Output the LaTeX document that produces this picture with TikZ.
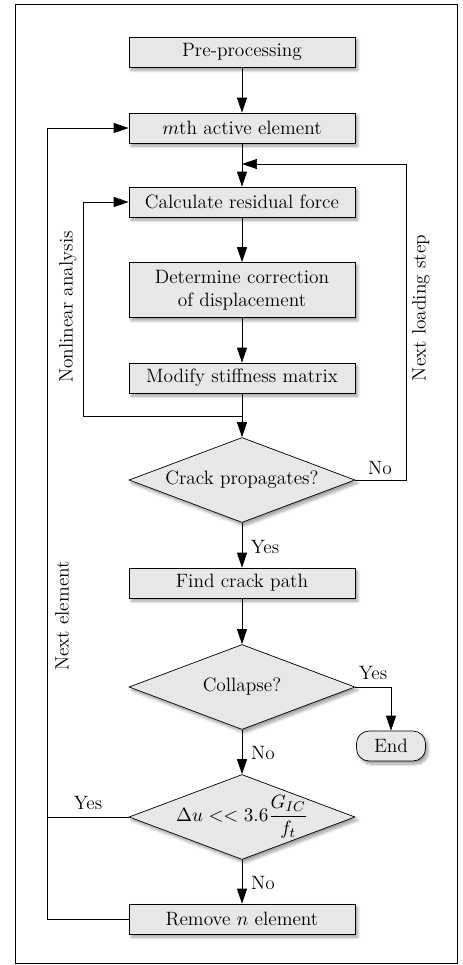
\documentclass[tikz,border=0pt]{standalone}
\usepackage{amsmath}
\usetikzlibrary{arrows.meta,shapes.geometric,shadows.blur}

\definecolor{boxgray}{RGB}{230,231,232}

\tikzset{
    >={Triangle[length=0.3cm,width=0.2cm]},
    softshadow/.style={blur shadow={shadow blur steps=6,shadow xshift=0.5mm,shadow yshift=-0.6mm,shadow opacity=40}},
    procbox/.style={draw,fill=boxgray,minimum width=4.52cm,minimum height=0.6cm,align=center,softshadow},
    decision/.style={diamond,draw,fill=boxgray,minimum width=4.52cm,minimum height=1.7cm,aspect=2.66,inner sep=0pt,softshadow},
    endbox/.style={draw,fill=boxgray,rounded corners=0.25cm,minimum width=1.38cm,minimum height=0.6cm,softshadow},
    flowlabel/.style={inner sep=1pt}
}

\begin{document}
\begin{tikzpicture}[x=0.02cm,y=-0.02cm,font=\fontsize{11}{13}\selectfont]
    \useasboundingbox (0,0) rectangle (463,965);
    \draw (15,4) rectangle (457,963);

    \node[procbox] (pre) at (242,52) {Pre-processing};
    \node[procbox] (mth) at (242,128) {$m$th active element};
    \node[procbox] (calc) at (242,202) {Calculate residual force};
    \node[procbox,minimum height=1.1cm] (corr) at (242,290) {Determine correction\\of displacement};
    \node[procbox] (stiff) at (242,378) {Modify stiffness matrix};
    \node[decision] (crack) at (242,480) {Crack propagates?};
    \node[procbox] (path) at (242,583) {Find crack path};
    \node[decision] (collapse) at (242,687) {Collapse?};
    \node[endbox] (end) at (391,746) {End};
    \node[decision,inner ysep=-8pt] (check) at (242,817) {$\Delta u << 3.6\dfrac{G_{IC}}{f_t}$};
    \node[procbox] (remove) at (242,919) {Remove $n$ element};

    \coordinate (loadin) at (242,164);
    \coordinate (loadturn) at (406,164);
    \coordinate (nonlin) at (242,416);
    \coordinate (nlturn) at (83,416);
    \coordinate (neturn) at (47,919);

    \draw[->] (pre) -- (mth);
    \draw[->] (mth) -- (calc);
    \draw[->] (calc) -- (corr);
    \draw[->] (corr) -- (stiff);
    \draw[->] (stiff) -- (crack);
    \draw[->] (crack) -- (path);
    \draw[->] (path) -- (collapse);
    \draw[->] (collapse) -- (check);
    \draw[->] (check) -- (remove);

    % loops back
    \draw[->] (crack.east) -| (loadturn) -- (loadin);
    \draw[->] (nonlin) -- (nlturn) |- (calc.west);
    \draw[->] (remove.west) -- (neturn) |- (mth.west);
    \draw (check.west) -- (check.west -| neturn);
    \draw[->] (collapse.east) -| (end.north);

    \node[flowlabel] (no1) at (380,468) {No};
    \node[flowlabel] (yes1) at (265,547) {Yes};
    \node[flowlabel] (yes2) at (373,673) {Yes};
    \node[flowlabel] (no2) at (263,753) {No};
    \node[flowlabel] (yes3) at (88,803) {Yes};
    \node[flowlabel] (no3) at (263,883) {No};

    \node[rotate=90] (nltext) at (68,307) {Nonlinear analysis};
    \node[rotate=90] (lstext) at (421,308) {Next loading step};
    \node[rotate=90] (netext) at (62,616) {Next element};
\end{tikzpicture}
\end{document}
